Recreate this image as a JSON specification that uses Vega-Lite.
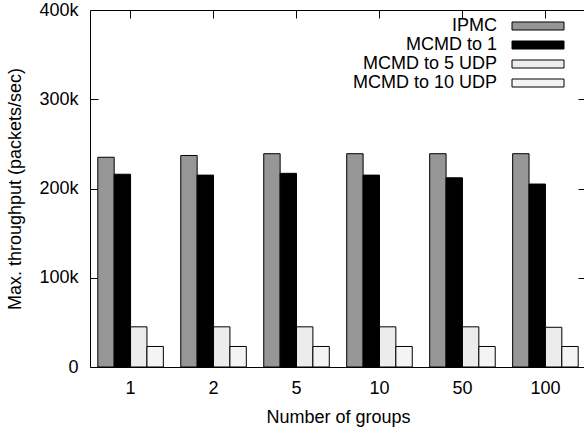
{
  "$schema": "https://vega.github.io/schema/vega-lite/v6.json",
  "width": 496,
  "height": 357,
  "autosize": "none",
  "padding": {"left": 90, "top": 10, "right": 0, "bottom": 61},
  "background": "white",
  "config": {
    "font": "Liberation Sans",
    "view": {"stroke": "black", "strokeWidth": 1},
    "axis": {
      "labelFont": "Liberation Sans",
      "titleFont": "Liberation Sans",
      "labelFontSize": 18,
      "titleFontSize": 18,
      "titleFontWeight": "normal",
      "labelColor": "black",
      "titleColor": "black",
      "tickColor": "black",
      "domainColor": "black",
      "grid": false
    },
    "legend": {
      "labelFont": "Liberation Sans",
      "labelFontSize": 18,
      "labelColor": "black"
    }
  },
  "data": {
    "values": [
      {"groups": "1", "series": "IPMC", "throughput": 235000},
      {"groups": "1", "series": "MCMD to 1", "throughput": 216000},
      {"groups": "1", "series": "MCMD to 5 UDP", "throughput": 45000},
      {"groups": "1", "series": "MCMD to 10 UDP", "throughput": 23000},
      {"groups": "2", "series": "IPMC", "throughput": 237000},
      {"groups": "2", "series": "MCMD to 1", "throughput": 215000},
      {"groups": "2", "series": "MCMD to 5 UDP", "throughput": 45000},
      {"groups": "2", "series": "MCMD to 10 UDP", "throughput": 23000},
      {"groups": "5", "series": "IPMC", "throughput": 239000},
      {"groups": "5", "series": "MCMD to 1", "throughput": 217000},
      {"groups": "5", "series": "MCMD to 5 UDP", "throughput": 45000},
      {"groups": "5", "series": "MCMD to 10 UDP", "throughput": 23000},
      {"groups": "10", "series": "IPMC", "throughput": 239000},
      {"groups": "10", "series": "MCMD to 1", "throughput": 215000},
      {"groups": "10", "series": "MCMD to 5 UDP", "throughput": 45000},
      {"groups": "10", "series": "MCMD to 10 UDP", "throughput": 23000},
      {"groups": "50", "series": "IPMC", "throughput": 239000},
      {"groups": "50", "series": "MCMD to 1", "throughput": 212000},
      {"groups": "50", "series": "MCMD to 5 UDP", "throughput": 45000},
      {"groups": "50", "series": "MCMD to 10 UDP", "throughput": 23000},
      {"groups": "100", "series": "IPMC", "throughput": 239000},
      {"groups": "100", "series": "MCMD to 1", "throughput": 205000},
      {"groups": "100", "series": "MCMD to 5 UDP", "throughput": 44500},
      {"groups": "100", "series": "MCMD to 10 UDP", "throughput": 23000}
    ]
  },
  "layer": [
    {
      "mark": {"type": "bar", "stroke": "black", "strokeWidth": 1},
      "encoding": {
        "x": {
          "field": "groups",
          "type": "ordinal",
          "sort": ["1", "2", "5", "10", "50", "100"],
          "scale": {"paddingInner": 0.21, "paddingOuter": 0.094},
          "axis": {
            "title": "Number of groups",
            "labelAngle": 0,
            "tickSize": -8,
            "domain": false,
            "labelPadding": 20,
            "titlePadding": 11
          }
        },
        "xOffset": {
          "field": "series",
          "type": "nominal",
          "sort": ["IPMC", "MCMD to 1", "MCMD to 5 UDP", "MCMD to 10 UDP"],
          "scale": {"paddingInner": 0, "paddingOuter": 0}
        },
        "y": {
          "field": "throughput",
          "type": "quantitative",
          "scale": {"domain": [0, 400000], "nice": false},
          "axis": {
            "values": [0, 100000, 200000, 300000, 400000],
            "labelExpr": "datum.value == 0 ? '0' : (datum.value / 1000) + 'k'",
            "title": "Max. throughput (packets/sec)",
            "tickSize": -8,
            "domain": false,
            "labelPadding": 20,
            "titlePadding": 14
          }
        },
        "fill": {
          "field": "series",
          "type": "nominal",
          "scale": {
            "domain": ["IPMC", "MCMD to 1", "MCMD to 5 UDP", "MCMD to 10 UDP"],
            "range": ["#969696", "#000000", "#ececec", "#f4f4f4"]
          },
          "legend": {
            "title": null,
            "orient": "none",
            "legendX": 413,
            "legendY": 7,
            "symbolType": "M0,-1H13V1H0Z",
            "symbolSize": 64,
            "symbolStrokeColor": "black",
            "symbolStrokeWidth": 1,
            "symbolOpacity": 1,
            "labelAlign": "right",
            "labelOffset": -24,
            "rowPadding": 1
          }
        }
      }
    },
    {
      "mark": {"type": "bar", "fillOpacity": 0, "strokeOpacity": 0},
      "encoding": {
        "x": {
          "field": "groups",
          "type": "ordinal",
          "sort": ["1", "2", "5", "10", "50", "100"],
          "axis": {"orient": "top", "labels": false, "title": null, "tickSize": -8, "domain": false}
        },
        "xOffset": {
          "field": "series",
          "type": "nominal",
          "sort": ["IPMC", "MCMD to 1", "MCMD to 5 UDP", "MCMD to 10 UDP"]
        },
        "y": {
          "field": "throughput",
          "type": "quantitative",
          "axis": {"orient": "right", "values": [0, 100000, 200000, 300000, 400000], "labels": false, "title": null, "tickSize": -8, "domain": false}
        }
      }
    }
  ],
  "resolve": {"axis": {"x": "independent", "y": "independent"}}
}
